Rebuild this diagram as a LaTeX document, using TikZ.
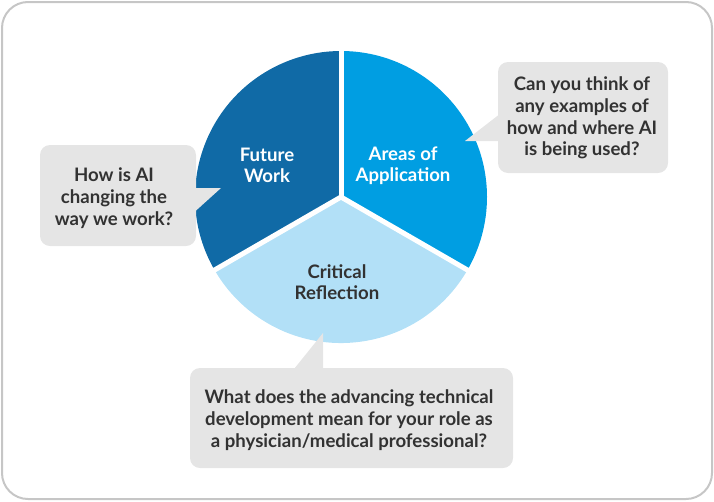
\documentclass[tikz,border=0pt]{standalone}
\usepackage{fontspec}
\usetikzlibrary{calc}
\setmainfont{Lato}
\definecolor{cdark}{RGB}{16,106,166}
\definecolor{cmid}{RGB}{0,158,226}
\definecolor{clight}{RGB}{178,224,247}
\definecolor{bub}{RGB}{229,229,229}
\definecolor{txt}{RGB}{50,50,50}
\definecolor{frame}{RGB}{198,198,198}
\tikzset{
  bubtext/.style={align=center, text=txt, font=\fontsize{18.6}{21.7}\selectfont\bfseries, inner sep=0pt},
  pietext/.style={align=center, font=\fontsize{18.6}{21}\selectfont\bfseries, inner sep=0pt},
  bubble/.style={fill=bub, rounded corners=10pt},
}
\begin{document}
\begin{tikzpicture}[x=1pt,y=-1pt]
\useasboundingbox (0,0) rectangle (714,501);
\draw[frame, line width=2pt, rounded corners=26pt] (2,2) rectangle (712,499);
% pie
\coordinate (c) at (341,197);
\fill[cdark] (c) -- ++(150:146) arc[start angle=150, end angle=270, radius=146] -- cycle;
\fill[cmid] (c) -- ++(-90:146) arc[start angle=-90, end angle=30, radius=146] -- cycle;
\fill[clight] (c) -- ++(30:146) arc[start angle=30, end angle=150, radius=146] -- cycle;
\coordinate (g1) at ($(c)+(270:150)$);
\coordinate (g2) at ($(c)+(30:150)$);
\coordinate (g3) at ($(c)+(150:150)$);
\draw[white, line width=5pt] (c) -- (g1);
\draw[white, line width=5pt] (c) -- (g2);
\draw[white, line width=5pt] (c) -- (g3);
\node[pietext, text=white] (fw) at (267,165) {Future\\Work};
\node[pietext, text=white] (aa) at (403,166) {Areas of\\Application};
\node[pietext, text=txt] (cr) at (337,282) {Critical\\Reflection};
% bubbles
\fill[bubble] (40,145) rectangle (196,246);
\fill[bub] (190,188) -- (221,188) -- (190,216) -- cycle;
\fill[bubble] (498,62) rectangle (668,173);
\fill[bub] (505,110) -- (465,141) -- (505,141) -- cycle;
\fill[bubble] (190,368) rectangle (513,468);
\fill[bub] (290,374) -- (323,333) -- (323,374) -- cycle;
\node[bubtext] (q1) at (114,198) {How is AI\\changing the\\way we work?};
\node[bubtext] (q2) at (582,118) {Can you think of\\any examples of\\how and where AI\\is being used?};
\node[bubtext] (q3) at (349,420) {What does the advancing technical\\development mean for your role as\\a physician/medical professional?};
\end{tikzpicture}
\end{document}
